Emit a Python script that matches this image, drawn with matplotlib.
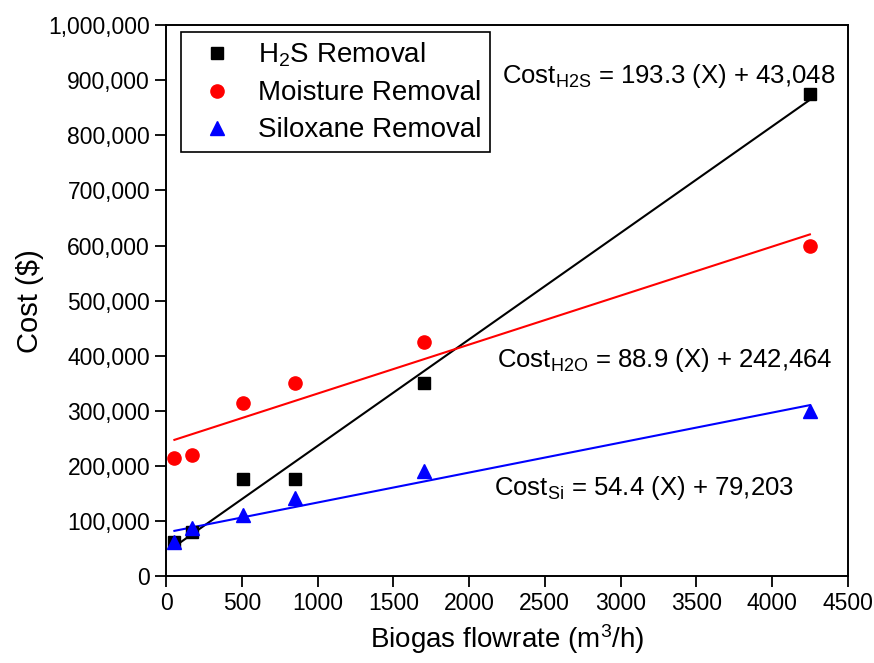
import matplotlib.pyplot as plt
import numpy as np
from matplotlib.ticker import FuncFormatter

plt.rcParams['font.family'] = ['Liberation Sans', 'DejaVu Sans']
plt.rcParams['mathtext.default'] = 'regular'

# Data
flow = [55, 170, 510, 850, 1700, 4250]
h2s_cost = [62000, 80000, 176000, 176000, 350000, 875000]
moisture_cost = [215000, 220000, 315000, 350000, 425000, 600000]
siloxane_cost = [62000, 87000, 111000, 142000, 190000, 300000]

# Linear fits quoted in the chart
h2s_fit = (193.3, 43048)
h2o_fit = (88.9, 242464)
si_fit = (54.4, 79203)

fig = plt.figure(figsize=(8.74, 6.63), dpi=100)
ax = fig.add_axes([0.19, 0.131, 0.780, 0.831])

xfit = np.array([flow[0], flow[-1]])
ax.plot(xfit, h2s_fit[0] * xfit + h2s_fit[1], color='black', lw=1.5)
ax.plot(xfit, h2o_fit[0] * xfit + h2o_fit[1], color='red', lw=1.5)
ax.plot(xfit, si_fit[0] * xfit + si_fit[1], color='blue', lw=1.5)

ax.plot(flow, h2s_cost, 's', color='black', ms=8.5, label='H$_2$S Removal')
ax.plot(flow, moisture_cost, 'o', color='red', ms=9.5, label='Moisture Removal')
ax.plot(flow, siloxane_cost, '^', color='blue', ms=10.5, label='Siloxane Removal')

ax.set_xlim(0, 4500)
ax.set_ylim(0, 1000000)
ax.set_xticks(np.arange(0, 4501, 500))
ax.set_yticks(np.arange(0, 1000001, 100000))
ax.yaxis.set_major_formatter(FuncFormatter(lambda v, p: f'{int(v):,}'))
ax.tick_params(axis='both', direction='out', length=8, width=1.3, labelsize=16.5,
               top=False, right=False)
for s in ax.spines.values():
    s.set_linewidth(1.4)

ax.set_xlabel('Biogas flowrate (m$^3$/h)', fontsize=20, labelpad=5)
ax.set_ylabel('Cost ($)', fontsize=21, labelpad=3)

ax.text(2217, 895000, 'Cost$_{H2S}$ = 193.3 (X) + 43,048',
        fontsize=18.5, ha='left', va='baseline')
ax.text(2184, 379000, 'Cost$_{H2O}$ = 88.9 (X) + 242,464',
        fontsize=18.5, ha='left', va='baseline')
ax.text(2164, 147000, 'Cost$_{Si}$ = 54.4 (X) + 79,203',
        fontsize=18.5, ha='left', va='baseline')

leg = ax.legend(loc='upper left', bbox_to_anchor=(0.022, 0.987), fontsize=20,
                frameon=True, fancybox=False, edgecolor='black', markerscale=1.0,
                handlelength=2.0, borderpad=0.3, labelspacing=0.4,
                handletextpad=0.47, borderaxespad=0, framealpha=1)
leg.get_frame().set_linewidth(1.2)

fig.savefig('out.png', dpi=100)
